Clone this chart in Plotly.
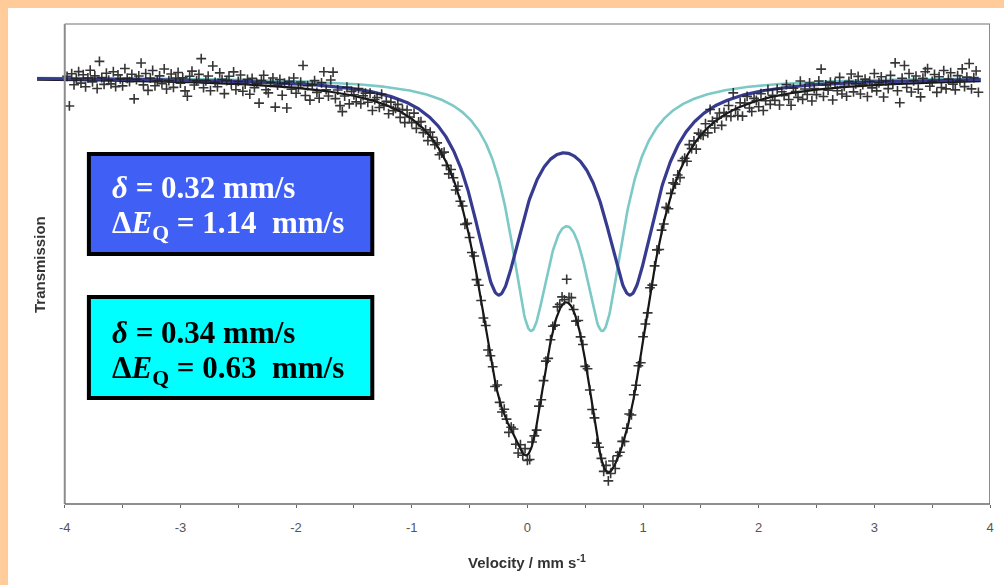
import numpy as np
import plotly.graph_objects as go

# Velocity channels of the measured spectrum (mm/s)
v_start = -3.98
v_step = 0.02

# Measured transmission minus the fitted envelope, per mille, one value per channel
resid_permil = [
    1.8, -13.0, 3.1, -2.4, 0.6, 4.2, -1.5, 2.7, -3.3, 1.1, 5.0, -0.8, 2.2, -4.1, 9.5, 1.4, -2.0, 3.6, 0.2, -1.7,
    4.4, -3.0, 2.9, 0.9, -2.6, 6.1, 1.2, -0.4, 3.3, -9.0, 0.7, 2.5, 9.0, -1.9, 3.8, -4.6, 1.6, 5.4, -2.2, 0.3,
    2.8, -1.1, 6.3, -3.7, 0.5, 3.9, -2.8, 1.9, 4.7, -0.6, 2.1, -4.4, -7.0, 3.0, 5.6, -1.3, 0.8, 4.1, 12.0, -2.5,
    1.0, 3.4, -3.9, 8.5, 0.4, -1.8, 5.2, 2.0, -5.1, 1.5, 3.7, -0.2, 6.0, -2.9, 1.3, 4.6, -3.5, 0.1, 2.6, -4.8,
    3.2, -1.4, 0.9, -9.0, 2.4, 5.1, -2.1, -3.6, 1.7, 4.0, -10.5, 0.6, 3.5, -4.3, 1.8, -10.5, 2.9, -0.9, 4.8, -2.7,
    0.2, 3.1, 11.5, -3.4, 1.6, -5.5, 2.3, 4.5, -1.2, -4.0, 3.8, 9.5, 0.7, -2.3, 5.9, 10.0, -3.1, 1.4, -6.2, -9.0,
    -1.0, 3.6, -4.5, 2.0, 0.5, -2.8, 4.1, -3.2, 1.1, 2.7, -1.6, 3.3, -5.0, 0.8, 2.2, -2.4, 4.6, -0.7, 1.9, -3.8,
    2.5, -1.3, 0.4, 3.0, -2.9, 1.6, -4.2, 2.8, 0.1, -1.9, 3.7, -3.0, 1.2, 2.4, -2.0, 0.6, -3.5, 2.1, 1.0, -1.1,
    1.5, -2.6, 0.3, 2.9, -1.4, -3.1, 1.8, 0.7, -2.2, 3.2, -0.5, 1.3, -3.4, 2.0, 0.2, -1.7, 2.6, -2.8, 1.1, 0.4,
    -1.2, 2.2, -3.0, 0.9, 1.7, -2.4, 3.5, -0.8, -1.9, 2.7, 0.5, -3.6, 1.4, 3.0, -2.1, -4.0, 2.4, -1.0, 3.3, -2.7,
    -3.8, 1.9, 0.4, -2.5, 2.8, -1.3, 0.9, 3.4, -2.0, 1.2, 2.5, -1.5, 3.9, 2.3, 4.1, 1.5, 11.5, 3.0, 4.4, 0.8,
    -1.8, 2.6, -0.6, 1.4, -2.9, 3.1, 0.2, -1.6, 2.0, -3.3, 1.0, 0.6, -2.2, 2.9, -4.2, -1.1, 3.6, -2.4, 1.3, 0.0,
    2.1, -1.7, 0.8, 3.2, -2.6, 1.5, -0.3, 2.4, -3.5, 1.9, 0.6, -1.4, 3.8, -2.0, 0.9, 2.6, -3.1, 1.1, -0.9, 2.7,
    -2.3, 1.4, 3.0, -1.0, 0.5, -3.7, 2.2, 1.0, -2.8, 3.5, -0.4, 1.7, -4.1, 2.4, 0.3, -1.5, 3.1, -2.6, 8.0, 1.2,
    -3.2, 0.8, 2.6, -4.4, 1.3, -1.1, 3.4, -2.7, 8.5, -0.5, -3.9, 2.0, -5.2, 0.9, 3.8, -2.4, -4.6, 1.6, 0.2, -3.3,
    2.9, -5.8, -1.2, 4.0, -3.6, 0.7, -2.1, 3.3, -4.9, 1.5, -0.6, 4.6, -3.0, -6.1, 2.2, 0.4, -2.7, 5.3, -4.0, 1.0,
    -1.9, 3.7, -5.4, 0.6, -2.5, 4.2, 10.0, -3.8, 1.8, -0.9, 3.0, -6.0, 2.4, -1.6, 5.0, -3.4, 0.3, -4.7, 2.6, 6.2,
    -2.8, 1.1, 4.8, -4.1, 0.5, 3.2, -5.6, 2.0, -1.4, 5.7, -3.0, 0.9, 3.9, -6.3, 1.7, -2.2, 4.4, 0.0, 10.5, -3.5,
    -9.5, 2.7, 9.0, -2.0, 4.9, -4.4, 1.2, 3.5, -3.1, -7.0, 2.3, 5.5, 7.0, -1.8, 0.6, 4.0, -5.0, 2.8, -2.6, 5.8,
    -3.4, 1.5, 4.6, -1.1, -4.0, 3.1, 0.4, 6.4, -2.5, 2.2, 9.0, -3.7, 1.9, 5.2, -5.5,
]

# Fitted quadrupole doublets (Lorentzian lines)
iso_shift = [0.32, 0.34]        # delta, mm/s
quad_split = [1.14, 0.63]       # Delta E_Q, mm/s
half_width = [0.27, 0.219]      # HWHM of each line, mm/s
line_depth = [0.1035, 0.1145]   # fractional absorption at each line centre
site_colors = ["#363b8f", "#7cc9c6"]
site_widths = [3.2, 2.6]
box_fill = ["#3f5ff5", "#00ffff"]
box_text_color = ["white", "black"]

baseline = 1.0
fit_span = [-4.24, 3.92]
x_ticks = [-4, -3, -2, -1, 0, 1, 2, 3, 4]
x_tick_text = ["-4", "-3", "-2", "-1", "0", "1", "2", "3", "4"]
x_minor = [-3.5, -2.5, -1.5, -0.5, 0.5, 1.5, 2.5, 3.5]

W, H = 1006, 585
ML, MR, MT, MB = 37, 14, 24, 81
PW, PH = W - ML - MR, H - MT - MB


def px_x(px):
    return (px - ML) / PW


def px_y(py):
    return (H - MB - py) / PH


def doublet(v, d, q, h, a):
    h2 = h * h
    return a * (h2 / ((v - d + q / 2) ** 2 + h2) + h2 / ((v - d - q / 2) ** 2 + h2))


v_fit = np.linspace(fit_span[0], fit_span[1], 1200)
components = [doublet(v_fit, iso_shift[i], quad_split[i], half_width[i], line_depth[i])
              for i in range(len(iso_shift))]
envelope = baseline - sum(components)

v_obs = v_start + v_step * np.arange(len(resid_permil))
t_obs = (baseline
         - sum(doublet(v_obs, iso_shift[i], quad_split[i], half_width[i], line_depth[i])
               for i in range(len(iso_shift)))
         + np.array(resid_permil) / 1000.0)

fig = go.Figure()
fig.add_trace(go.Scatter(x=v_fit, y=envelope, mode="lines",
                         line=dict(color="#151515", width=2.2), showlegend=False))
for i in (1, 0):
    fig.add_trace(go.Scatter(x=v_fit, y=baseline - components[i], mode="lines",
                             line=dict(color=site_colors[i], width=site_widths[i]),
                             showlegend=False))
fig.add_trace(go.Scatter(x=v_obs, y=t_obs, mode="markers",
                         marker=dict(symbol="cross-thin", size=7, color="#202020",
                                     line=dict(color="#202020", width=1.6)),
                         opacity=0.9, showlegend=False))

shapes = []
# axis frame starting at -4 mm/s
frame = dict(type="line", xref="x", yref="paper", layer="above")
shapes.append(dict(frame, x0=-4, x1=-4, y0=0, y1=1, line=dict(color="#8c8c8c", width=2)))
shapes.append(dict(frame, x0=-4, x1=4, y0=1, y1=1, line=dict(color="#a0a0a0", width=1.6)))
shapes.append(dict(frame, x0=4, x1=4, y0=0, y1=1, line=dict(color="#8c8c8c", width=2)))
shapes.append(dict(frame, x0=-4, x1=4, y0=0, y1=0, line=dict(color="#6a6a6a", width=1.6)))

# peach page border
peach = "#ffcc99"
shapes.append(dict(type="rect", xref="paper", yref="paper", layer="above",
                   x0=px_x(0), x1=px_x(W), y0=px_y(8), y1=px_y(0),
                   fillcolor=peach, line=dict(width=0)))
shapes.append(dict(type="rect", xref="paper", yref="paper", layer="above",
                   x0=px_x(0), x1=px_x(8), y0=px_y(H), y1=px_y(0),
                   fillcolor=peach, line=dict(width=0)))

# parameter boxes
box_rows = [(154, 254), (297, 398)]
for i, (top, bot) in enumerate(box_rows):
    shapes.append(dict(type="rect", xref="paper", yref="paper", layer="above",
                       x0=px_x(89), x1=px_x(373), y0=px_y(bot), y1=px_y(top),
                       fillcolor=box_fill[i], line=dict(color="black", width=4)))

annotations = []
serif = "Times New Roman, Liberation Serif, serif"
line_centres = [(187, 225), (332, 370)]
for i, (c1, c2) in enumerate(line_centres):
    annotations.append(dict(
        xref="paper", yref="paper", x=px_x(110), y=px_y(c1), xanchor="left", yanchor="middle",
        showarrow=False,
        text=f"<b><i>δ</i> = {iso_shift[i]:.2f} mm/s</b>",
        font=dict(family=serif, size=31, color=box_text_color[i])))
    annotations.append(dict(
        xref="paper", yref="paper", x=px_x(110), y=px_y(c2), xanchor="left", yanchor="middle",
        showarrow=False,
        text=f"<b>Δ<i>E</i><sub>Q</sub> = {quad_split[i]:.2f}\u00a0 mm/s</b>",
        font=dict(family=serif, size=31, color=box_text_color[i])))

sans = "Arial, Liberation Sans, sans-serif"
annotations.append(dict(xref="paper", yref="paper", x=px_x(528), y=px_y(561),
                        xanchor="center", yanchor="middle", showarrow=False,
                        text="<b>Velocity / mm s<sup>-1</sup></b>",
                        font=dict(family=sans, size=15, color="#333333")))
annotations.append(dict(xref="paper", yref="paper", x=px_x(39), y=px_y(264),
                        xanchor="center", yanchor="middle", showarrow=False, textangle=-90,
                        text="<b>Transmission</b>",
                        font=dict(family=sans, size=15, color="#333333")))

fig.update_layout(
    width=W, height=H,
    margin=dict(l=ML, r=MR, t=MT, b=MB, pad=0),
    paper_bgcolor="white", plot_bgcolor="white",
    shapes=shapes, annotations=annotations,
    xaxis=dict(range=[-4.24, 4.0], tickvals=x_ticks, ticktext=x_tick_text,
               ticks="outside", ticklen=3, tickcolor="#666666", tickwidth=1,
               minor=dict(tickvals=x_minor, ticks="outside", ticklen=3, tickcolor="#666666"),
               showgrid=False, zeroline=False, showline=False,
               tickfont=dict(family=sans, size=13, color="#555555"),
               ticklabelstandoff=8),
    yaxis=dict(range=[0.7865, 1.0265], showticklabels=False, ticks="",
               showgrid=False, zeroline=False, showline=False),
)

fig.write_html("out.html")
